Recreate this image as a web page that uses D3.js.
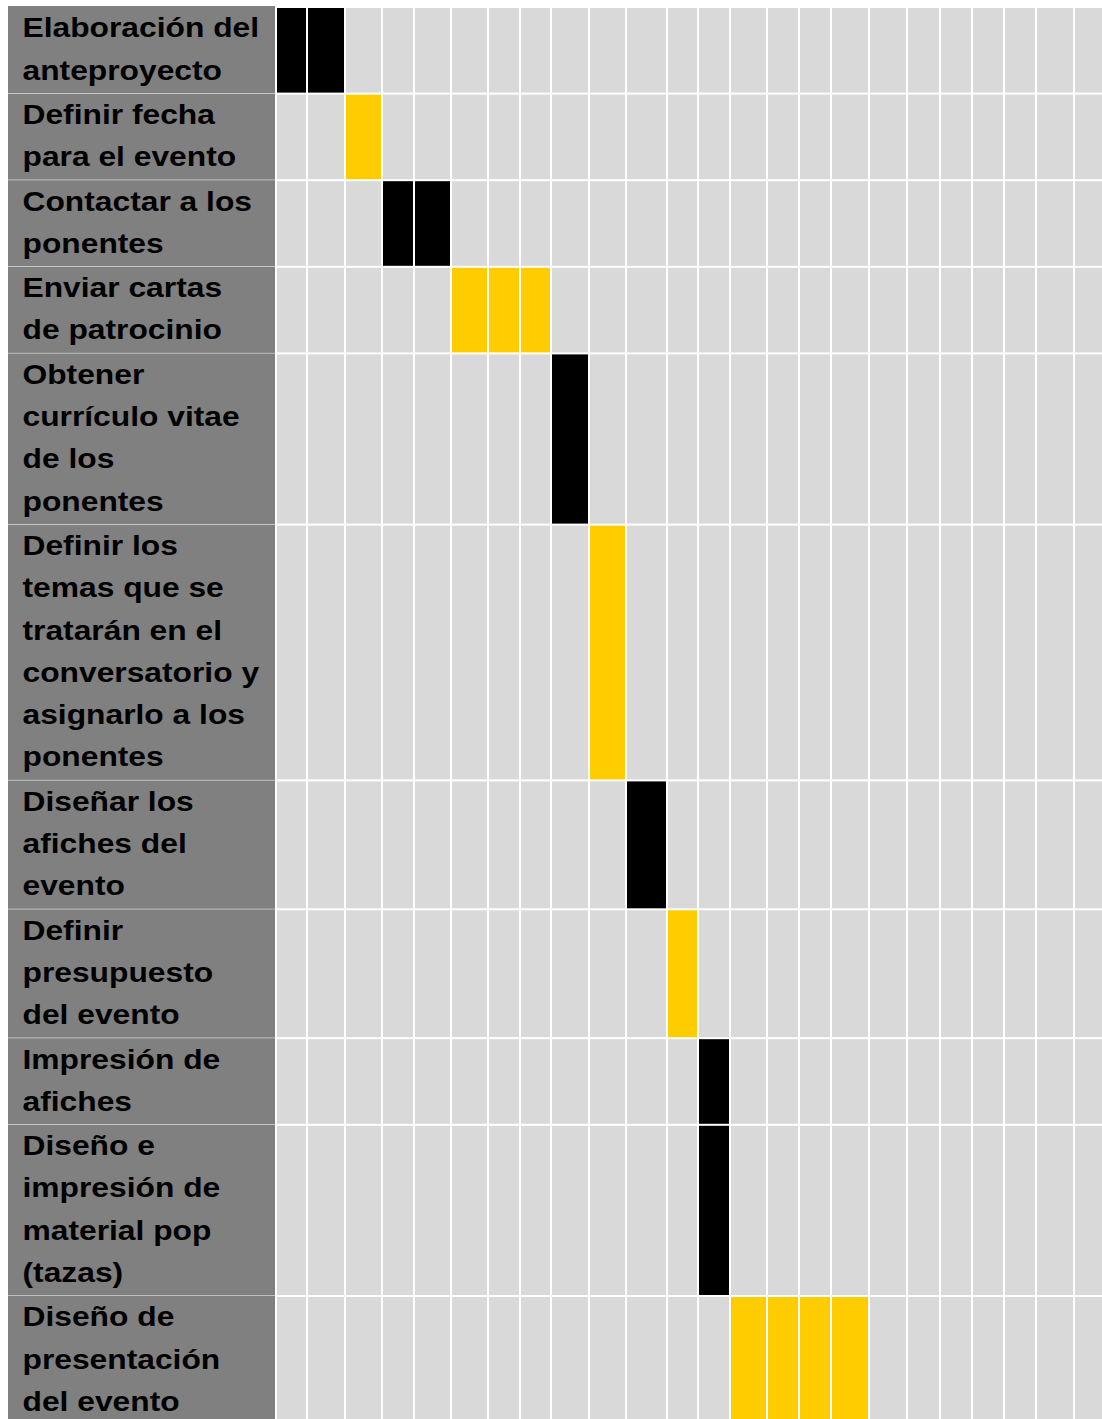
<!DOCTYPE html>
<html>
<head>
<meta charset="utf-8">
<script src="https://cdn.jsdelivr.net/npm/d3@7"></script>
<style>
  html, body { margin: 0; padding: 0; background: #ffffff; }
  svg { display: block; }
</style>
</head>
<body>
<div id="chart"></div>
<script>
// ---------------- data ----------------
const tasks = [
  ["Elaboración del", "anteproyecto"],
  ["Definir fecha", "para el evento"],
  ["Contactar a los", "ponentes"],
  ["Enviar cartas", "de patrocinio"],
  ["Obtener", "currículo vitae", "de los", "ponentes"],
  ["Definir los", "temas que se", "tratarán en el", "conversatorio y", "asignarlo a los", "ponentes"],
  ["Diseñar los", "afiches del", "evento"],
  ["Definir", "presupuesto", "del evento"],
  ["Impresión de", "afiches"],
  ["Diseño e", "impresión de", "material pop", "(tazas)"],
  ["Diseño de", "presentación", "del evento"]
];
// first period (0-based column) and number of periods for each task
const taskStart    = [0, 2, 3, 5, 8, 9, 10, 11, 12, 12, 13];
const taskDuration = [2, 1, 2, 3, 1, 1, 1, 1, 1, 1, 4];
const taskGroup    = ["A", "B", "A", "B", "A", "B", "A", "B", "A", "A", "B"];
const periods = d3.range(24);

// ---------------- layout ----------------
const W = 1102, H = 1419;
const colWeights = [31,38,37,32,37,37,32,31,38,37,41,31,32,37,32,32,38,38,33,32,32,32,38,31];
const lineH = 42.3, rowGap = 2, top0 = 8, gridLeft = 277, gridRight = 1106;
const labelLeft = 8, labelRight = 275, textX = 22.5;
const colors = { A: "#000000", B: "#ffcc00" };

const svg = d3.select("#chart").append("svg")
  .attr("width", W).attr("height", H);

// x scale: cumulative column weights -> pixels
const colCum = [0, ...d3.cumsum(colWeights)];
const x = d3.scaleLinear().domain([0, d3.sum(colWeights)]).range([gridLeft, gridRight]);
const colX0 = i => x(colCum[i]);
const colX1 = i => x(colCum[i + 1]) - 2;

// y scale: cumulative line counts -> pixels
const lineCounts = tasks.map(t => t.length);
const lineCum = [0, ...d3.cumsum(lineCounts)];
const y = d3.scaleLinear().domain([0, d3.sum(lineCounts)]).range([top0, top0 + d3.sum(lineCounts) * lineH]);
const rowY0 = i => y(lineCum[i]) + i * rowGap;
const rowY1 = i => y(lineCum[i + 1]) + i * rowGap;

const rows = tasks.map((lines, i) => ({ i, lines, y0: rowY0(i), y1: rowY1(i) }));

// label cells
svg.append("g").selectAll("rect").data(rows).join("rect")
  .attr("x", labelLeft)
  .attr("y", d => d.i === 0 ? d.y0 - 2 : d.y0 - 1)
  .attr("width", labelRight - labelLeft)
  .attr("height", d => d.y1 - d.y0 + (d.i === 0 ? 2 : 1) + 0.5)
  .attr("fill", "#808080");

// grid cells
const cells = [];
rows.forEach(r => periods.forEach(p => {
  const active = p >= taskStart[r.i] && p < taskStart[r.i] + taskDuration[r.i];
  cells.push({ r, p, fill: active ? colors[taskGroup[r.i]] : "#d9d9d9" });
}));
svg.append("g").selectAll("rect").data(cells).join("rect")
  .attr("x", d => colX0(d.p))
  .attr("y", d => d.r.y0)
  .attr("width", d => colX1(d.p) - colX0(d.p))
  .attr("height", d => d.r.y1 - d.r.y0)
  .attr("fill", d => d.fill);

// label text
const tg = svg.append("g").selectAll("g").data(rows).join("g");
tg.selectAll("text").data(d => d.lines.map((t, k) => ({ t, k, y0: d.y0 }))).join("text")
  .attr("transform", d => `translate(${textX},${d.y0 + 29.3 + d.k * lineH}) scale(1.135,1)`)
  .attr("font-family", "'Liberation Sans', Arial, sans-serif")
  .attr("font-weight", "bold")
  .attr("font-size", 28)
  .attr("fill", "#000")
  .text(d => d.t);
</script>
</body>
</html>
